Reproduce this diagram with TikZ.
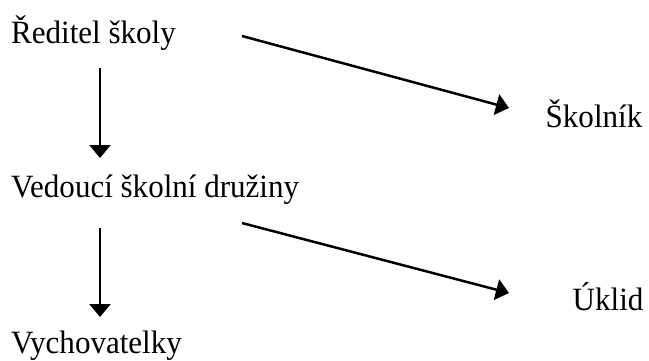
\documentclass[tikz,border=0pt]{standalone}
\usepackage{fontspec}
\setmainfont{Liberation Serif}[FakeStretch=0.955]
\usetikzlibrary{arrows.meta}
\tikzset{
  lbl/.style={anchor=base west, inner sep=0pt, font=\fontsize{32.5bp}{38bp}\selectfont},
  arr/.style={line width=2.5bp, -{Triangle[length=13bp,width=21bp]}}
}
\begin{document}
\begin{tikzpicture}[x=1bp,y=-1bp]
\useasboundingbox (0,0) rectangle (649,360);
\node[lbl] (r) at (11,43) {Ředitel školy};
\node[lbl] (v) at (11,197) {Vedoucí školní družiny};
\node[lbl] (vy) at (11,353) {Vychovatelky};
\node[lbl] (s) at (545.5,127) {Školník};
\node[lbl] (u) at (572.5,310) {Úklid};
\coordinate (a1s) at (100,68);
\coordinate (a1e) at (100,158);
\coordinate (a2s) at (100,228);
\coordinate (a2e) at (100,317);
\coordinate (d1s) at (242,36);
\coordinate (d1e) at (509,108);
\coordinate (d2s) at (242,223);
\coordinate (d2e) at (509,293);
\draw[arr] (a1s) -- (a1e);
\draw[arr] (a2s) -- (a2e);
\draw[arr] (d1s) -- (d1e);
\draw[arr] (d2s) -- (d2e);
\end{tikzpicture}
\end{document}
